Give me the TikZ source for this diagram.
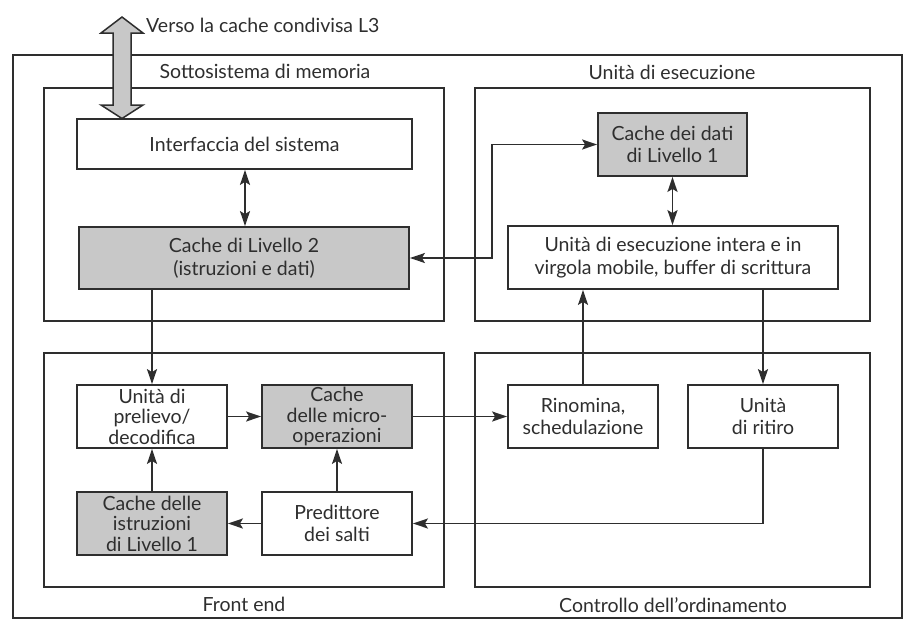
\documentclass[tikz,border=0pt]{standalone}
\usepackage{fontspec}
\setmainfont{Lato}
\usetikzlibrary{arrows.meta}
\definecolor{ink}{HTML}{2E2E2E}
\definecolor{boxgray}{HTML}{C8C8C8}
\tikzset{
  frame/.style={draw=ink, line width=1.8pt, inner sep=0pt, fill=none},
  unit/.style={draw=ink, line width=1.8pt, inner sep=0pt, fill=white, align=center,
    text=ink, font=\fontsize{19.5}{20.5}\selectfont},
  shaded/.style={unit, fill=boxgray},
  lbl/.style={text=ink, font=\fontsize{19.5}{21}\selectfont, inner sep=0pt},
  conn/.style={draw=ink, line width=1.8pt, -{Stealth[length=15pt,width=10pt,inset=3pt]}},
  bconn/.style={draw=ink, line width=1.8pt, {Stealth[length=15pt,width=10pt,inset=3pt]}-{Stealth[length=15pt,width=10pt,inset=3pt]}},
}
\begin{document}
\begin{tikzpicture}[x=1pt,y=-1pt]
\useasboundingbox (0,0) rectangle (910,638);
% containers
\node[frame, minimum width=889pt, minimum height=563pt] (outer) at (457.5,336.5) {};
\node[frame, minimum width=400pt, minimum height=233pt] (mem) at (244,204.5) {};
\node[frame, minimum width=395pt, minimum height=233pt] (exe) at (672.5,204.5) {};
\node[frame, minimum width=400pt, minimum height=234pt] (fe) at (244,470) {};
\node[frame, minimum width=395pt, minimum height=234pt] (ord) at (672.5,470) {};
% container labels
\node[lbl] (memlbl) at (265,71) {Sottosistema di memoria};
\node[lbl] (exelbl) at (672,72) {Unità di esecuzione};
\node[lbl] (felbl) at (244,604) {Front end};
\node[lbl] (ordlbl) at (673,605) {Controllo dell’ordinamento};
% units
\node[unit, minimum width=335pt, minimum height=50pt] (iface) at (244.5,144) {Interfaccia del sistema};
\node[shaded, minimum width=330pt, minimum height=62pt] (ltwo) at (244,258) {Cache di Livello 2\\[2pt](istruzioni e dati)};
\node[shaded, minimum width=149pt, minimum height=63pt] (dcache) at (672.5,144.5) {Cache dei dati\\[2pt]di Livello 1};
\node[unit, minimum width=330pt, minimum height=63pt] (exu) at (673,257.5) {Unità di esecuzione intera e in\\[2pt]virgola mobile, buffer di scrittura};
\node[unit, minimum width=150pt, minimum height=63pt] (fetch) at (152,416.5) {Unità di\\prelievo/\\decodifica};
\node[shaded, minimum width=150pt, minimum height=63pt] (uop) at (337,416.5) {Cache\\delle micro-\\operazioni};
\node[shaded, minimum width=150pt, minimum height=63pt] (icache) at (152,523.5) {Cache delle\\istruzioni\\di Livello 1};
\node[unit, minimum width=150pt, minimum height=63pt] (pred) at (337,523.5) {Predittore\\[2pt]dei salti};
\node[unit, minimum width=150pt, minimum height=63pt] (ren) at (583,416.5) {Rinomina,\\[2pt]schedulazione};
\node[unit, minimum width=150pt, minimum height=63pt] (ret) at (763,416.5) {Unità\\[2pt]di ritiro};
% big double arrow to L3
\filldraw[draw=ink, fill=boxgray, line width=1.5pt]
  (122,17) -- (143,33) -- (131,33) -- (131,105) -- (143,105) -- (122,118.5)
  -- (101,105) -- (113,105) -- (113,33) -- (101,33) -- cycle;
\node[lbl, anchor=west] (l3lbl) at (146,25) {Verso la cache condivisa L3};
% connectors
\draw[bconn] (iface.south -| 245,0) -- (ltwo.north -| 245,0);
\draw[bconn] (dcache.south) -- (dcache.south |- exu.north);
\draw[bconn] (ltwo.east) -- (492,258) |- (dcache.west);
\draw[conn] (ltwo.south -| fetch.north) -- (fetch.north);
\draw[conn] (fetch.east) -- (uop.west);
\draw[conn] (uop.east) -- (ren.west);
\draw[conn] (icache.north) -- (fetch.south);
\draw[conn] (pred.north) -- (uop.south);
\draw[conn] (pred.west) -- (icache.east);
\draw[conn] (ren.north) -- (ren.north |- exu.south);
\draw[conn] (exu.south -| ret.north) -- (ret.north);
\draw[conn] (ret.south) -- (ret.south |- pred.east) -- (pred.east);
\end{tikzpicture}
\end{document}
